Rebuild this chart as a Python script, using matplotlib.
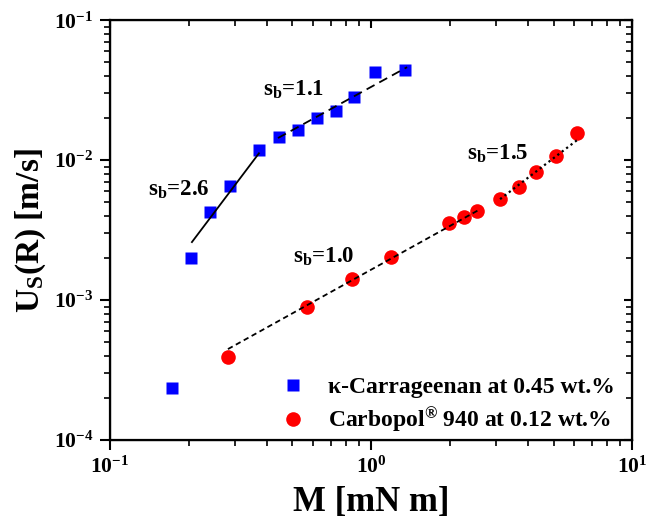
import math
import matplotlib
matplotlib.use("Agg")
import matplotlib.pyplot as plt
from matplotlib.ticker import FuncFormatter, LogLocator, NullFormatter

# kappa-Carrageenan 0.45 wt.%
carr_M = [0.173, 0.204, 0.242, 0.288, 0.372, 0.444, 0.525, 0.621, 0.734, 0.861, 1.036, 1.35]
carr_U = [2.35e-4, 2.0e-3, 4.25e-3, 6.5e-3, 1.18e-2, 1.46e-2, 1.64e-2, 2.0e-2, 2.24e-2, 2.82e-2, 4.25e-2, 4.39e-2]

# Carbopol 940 0.12 wt.%
carb_M = [0.283, 0.569, 0.845, 1.19, 1.99, 2.27, 2.55, 3.12, 3.69, 4.29, 5.11, 6.15]
carb_U = [3.92e-4, 8.9e-4, 1.41e-3, 2.03e-3, 3.55e-3, 3.92e-3, 4.32e-3, 5.27e-3, 6.41e-3, 8.2e-3, 1.07e-2, 1.56e-2]

# power-law fit segments (endpoints)
fit_carr_steep_M = [0.206, 0.372]
fit_carr_steep_U = [2.6e-3, 1.12e-2]
fit_carr_flat_M = [0.440, 1.374]
fit_carr_flat_U = [1.44e-2, 4.62e-2]
fit_carb_low_M = [0.283, 2.62]
fit_carb_low_U = [4.47e-4, 4.47e-3]
fit_carb_high_M = [3.12, 6.15]
fit_carb_high_U = [5.27e-3, 1.39e-2]

# slope labels: text, M, U (baseline-left anchor)
slope_text = ["1.1", "2.6", "1.0", "1.5"]
slope_M = [0.385, 0.140, 0.502, 2.33]
slope_U = [0.0291, 5.62e-3, 1.84e-3, 1.0e-2]

plt.rcParams["font.family"] = ["Liberation Serif", "DejaVu Serif"]
plt.rcParams["font.weight"] = "bold"
plt.rcParams["mathtext.fontset"] = "custom"
plt.rcParams["mathtext.rm"] = "Liberation Serif:bold"
plt.rcParams["mathtext.it"] = "Liberation Serif:bold:italic"
plt.rcParams["mathtext.bf"] = "Liberation Serif:bold"

fig = plt.figure(figsize=(6.47, 5.19), dpi=100)
ax = fig.add_axes([0.170, 0.152, 0.807, 0.809])

ax.plot(carr_M, carr_U, "s", color="#0000ff", markersize=9.2, mec="none",
        label="\u03ba-Carrageenan at 0.45 wt.%", zorder=3)
ax.plot(carb_M, carb_U, "o", color="#ff0000", markersize=10.5, mec="none",
        label="Carbopol$^{\\mathrm{\u00ae}}$ 940 at 0.12 wt.%", zorder=3)

ax.plot(fit_carr_steep_M, fit_carr_steep_U, "-", color="black", lw=1.3, zorder=4)
ax.plot(fit_carr_flat_M, fit_carr_flat_U, color="black", lw=1.3, dashes=(5, 3), zorder=4)
ax.plot(fit_carb_low_M, fit_carb_low_U, color="black", lw=1.3, dashes=(3, 2), zorder=4)
ax.plot(fit_carb_high_M, fit_carb_high_U, color="black", lw=1.6, dashes=(1, 1.5), zorder=4)

ax.set_xscale("log")
ax.set_yscale("log")
ax.set_xlim(0.1, 10)
ax.set_ylim(1e-4, 1e-1)

fmt = FuncFormatter(lambda v, p: r"10$^{\mathregular{%d}}$" % round(math.log10(v)))
ax.xaxis.set_major_formatter(fmt)
ax.yaxis.set_major_formatter(fmt)
ax.xaxis.set_minor_formatter(NullFormatter())
ax.yaxis.set_minor_formatter(NullFormatter())
ax.tick_params(which="major", direction="out", length=7, width=1.5, labelsize=15.5, pad=5)
ax.tick_params(which="minor", direction="out", length=4, width=1.2)
for s in ax.spines.values():
    s.set_linewidth(1.6)

# mirrored ticks pointing inward on top and right
axt = ax.twiny()
axt.set_xscale("log")
axt.set_xlim(ax.get_xlim())
axt.tick_params(which="major", direction="in", length=6, width=1.5, labeltop=False)
axt.tick_params(which="minor", direction="in", length=4, width=1.2)
axt.xaxis.set_minor_locator(LogLocator(subs=range(2, 10)))
axr = ax.twinx()
axr.set_yscale("log")
axr.set_ylim(ax.get_ylim())
axr.tick_params(which="major", direction="in", length=6, width=1.5, labelright=False)
axr.tick_params(which="minor", direction="in", length=4, width=1.2)
axr.yaxis.set_minor_locator(LogLocator(subs=range(2, 10)))

ax.set_xlabel("M [mN m]", fontsize=25, fontweight="bold", labelpad=6)
ax.set_ylabel(r"U$_\mathregular{S}$(R) [m/s]", fontsize=24, fontweight="bold", labelpad=4)

for t, m, u in zip(slope_text, slope_M, slope_U):
    ax.text(m, u, r"s$_\mathregular{b}$=" + t, fontsize=16.5, fontweight="bold",
            ha="left", va="baseline")

ax.legend(loc="lower left", bbox_to_anchor=(0.324, 0.012), frameon=False, fontsize=17,
          handletextpad=0.85, labelspacing=0.32, borderaxespad=0, borderpad=0,
          handlelength=1.2)

fig.savefig("out.png", dpi=100)
